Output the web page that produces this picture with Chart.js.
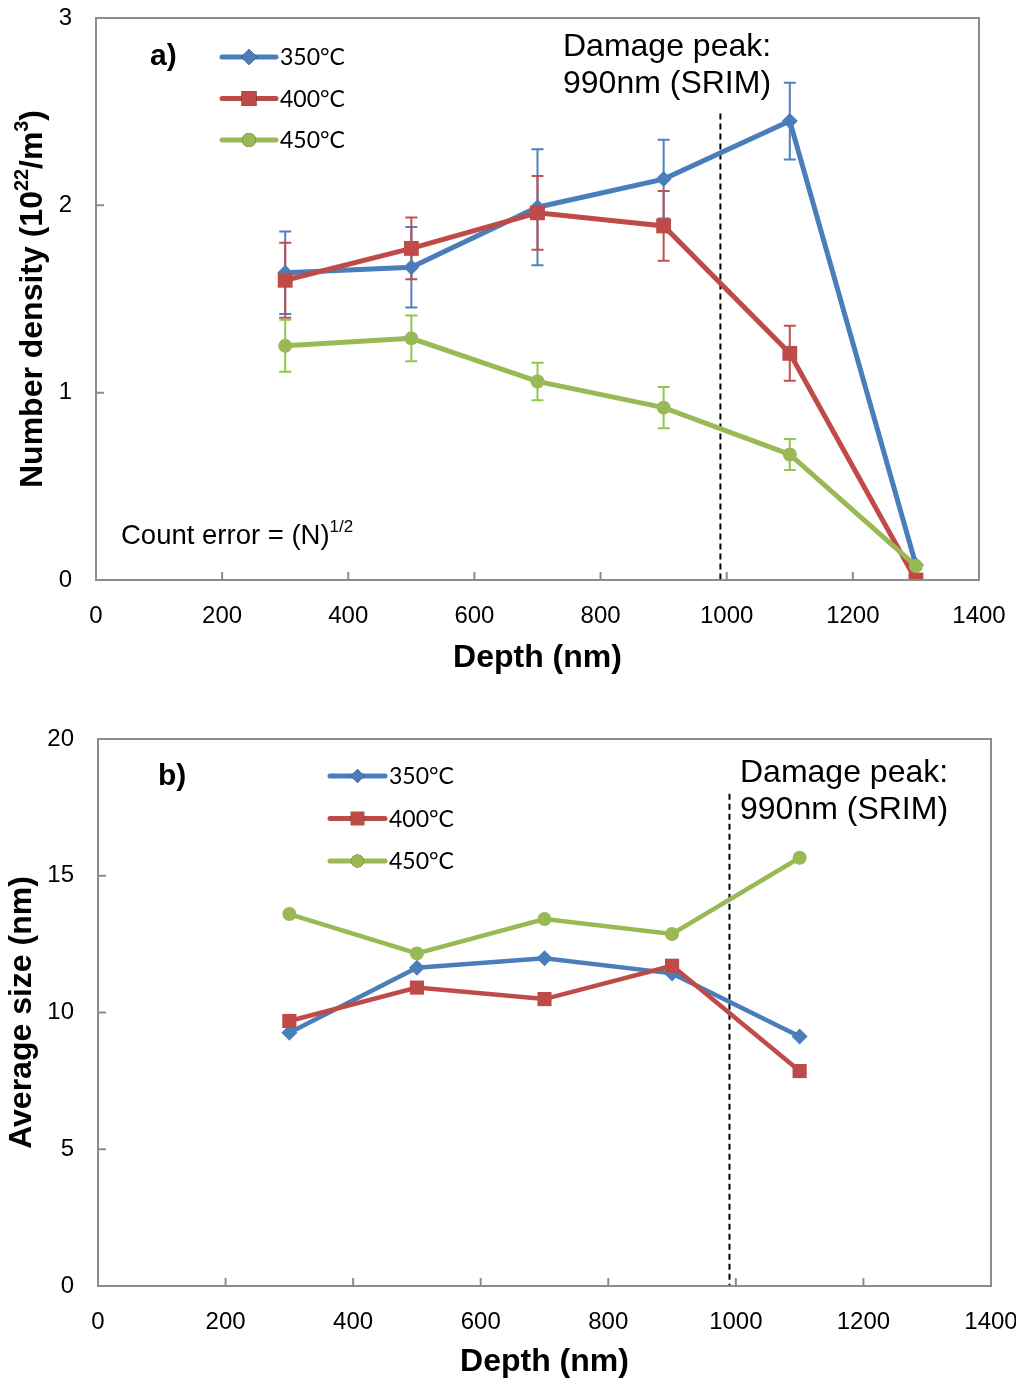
<!DOCTYPE html>
<html>
<head>
<meta charset="utf-8">
<script src="https://cdn.jsdelivr.net/npm/chart.js@4/dist/chart.umd.min.js"></script>
<style>
  body { margin: 0; background: #fff; }
  #wrap { position: relative; width: 1016px; height: 1385px; }
  canvas { position: absolute; left: 0; }
  #chartA { top: 0; }
  #chartB { top: 700px; }
</style>
</head>
<body>
<div id="wrap">
  <canvas id="chartA" width="1016" height="690"></canvas>
  <canvas id="chartB" width="1016" height="685"></canvas>
</div>
<script>
// panel a) number density vs depth
const depths = [300, 500, 700, 900, 1100, 1300];
const density350 = [1.64, 1.67, 1.99, 2.14, 2.45, 0.08];
const density400 = [1.60, 1.77, 1.96, 1.89, 1.21, 0.0];
const density450 = [1.25, 1.29, 1.06, 0.92, 0.67, 0.075];
const err350 = [0.22, 0.215, 0.31, 0.21, 0.205, 0];
const err400 = [0.20, 0.165, 0.197, 0.186, 0.147, 0];
const err450 = [0.139, 0.122, 0.10, 0.11, 0.083, 0];

// panel b) average size vs depth
const sizeDepths = [300, 500, 700, 900, 1100];
const size350 = [9.26, 11.64, 11.98, 11.43, 9.12];
const size400 = [9.69, 10.91, 10.49, 11.71, 7.86];
const size450 = [13.6, 12.16, 13.42, 12.87, 15.66];

const seriesLabels = ['350°C', '400°C', '450°C'];
const damagePeak = 990;

const colors = ['#4A7EBB', '#BE4B48', '#98B954'];
const errColors = ['#4F81BD', '#C0504D', '#92C84A'];
const shapes = ['rectRot', 'rect', 'circle'];

const SANS = '"Liberation Sans", Arial, sans-serif';
const LEG = 'Lato, "Noto Sans", sans-serif';

function toXY(xs, ys) {
    return xs.map((x, i) => ({ x: x, y: ys[i] }));
}

function drawRich(ctx, parts, x, y, size, bold, align) {
    const w = parts.reduce((s, p) => {
        ctx.font = (bold ? 'bold ' : '') + (p.sup ? size * 0.62 : size) + 'px ' + SANS;
        return s + ctx.measureText(p.t).width;
    }, 0);
    let cx = align === 'center' ? x - w / 2 : x;
    ctx.textBaseline = 'middle';
    ctx.textAlign = 'left';
    parts.forEach(p => {
        ctx.font = (bold ? 'bold ' : '') + (p.sup ? size * 0.62 : size) + 'px ' + SANS;
        ctx.fillText(p.t, cx, p.sup ? y - size * 0.32 : y);
        cx += ctx.measureText(p.t).width;
    });
}

function drawMarker(ctx, shape, x, y, r, color) {
    Chart.helpers.drawPoint(ctx, { pointStyle: shape, radius: r, rotation: 0, borderWidth: 0 }, x, y);
    ctx.fillStyle = color;
    ctx.fill();
}

const decorPlugin = {
    id: 'decor',
    beforeDatasetsDraw(chart, args, opts) {
        const ctx = chart.ctx;
        const xs = chart.scales.x, ys = chart.scales.y;
        // error bars
        (opts.errors || []).forEach((errs, di) => {
            if (!errs) return;
            const ds = chart.data.datasets[di];
            ctx.save();
            ctx.strokeStyle = errColors[di];
            ctx.lineWidth = 2;
            ds.data.forEach((pt, i) => {
                if (!errs[i]) return;
                const px = xs.getPixelForValue(pt.x);
                const t = ys.getPixelForValue(pt.y + errs[i]);
                const b = ys.getPixelForValue(pt.y - errs[i]);
                ctx.beginPath();
                ctx.moveTo(px, t); ctx.lineTo(px, b);
                ctx.moveTo(px - 6, t); ctx.lineTo(px + 6, t);
                ctx.moveTo(px - 6, b); ctx.lineTo(px + 6, b);
                ctx.stroke();
            });
            ctx.restore();
        });
        // dashed damage peak line
        ctx.save();
        ctx.strokeStyle = '#000';
        ctx.lineWidth = 2;
        ctx.setLineDash([6, 4]);
        const dx = xs.getPixelForValue(damagePeak);
        ctx.beginPath();
        ctx.moveTo(dx, ys.getPixelForValue(opts.dashTop));
        ctx.lineTo(dx, chart.chartArea.bottom);
        ctx.stroke();
        ctx.restore();
    },
    afterDraw(chart, args, opts) {
        const ctx = chart.ctx;
        const a = chart.chartArea;
        const xs = chart.scales.x, ys = chart.scales.y;
        ctx.save();
        // frame
        ctx.strokeStyle = '#8C8C8C';
        ctx.lineWidth = 2;
        ctx.strokeRect(a.left, a.top, a.right - a.left, a.bottom - a.top);
        // inward tick marks
        ctx.beginPath();
        xs.ticks.forEach((t, i) => {
            const px = xs.getPixelForTick(i);
            ctx.moveTo(px, a.bottom); ctx.lineTo(px, a.bottom - 8);
        });
        ys.ticks.forEach((t, i) => {
            const py = ys.getPixelForTick(i);
            ctx.moveTo(a.left, py); ctx.lineTo(a.left + 8, py);
        });
        ctx.stroke();
        ctx.fillStyle = '#000';
        // axis titles
        drawRich(ctx, [{ t: 'Depth (nm)' }], (a.left + a.right) / 2, opts.xTitleY, 32, true, 'center');
        ctx.save();
        ctx.translate(opts.yTitleX, (a.top + a.bottom) / 2);
        ctx.rotate(-Math.PI / 2);
        drawRich(ctx, opts.yTitle, 0, 0, 32, true, 'center');
        ctx.restore();
        // annotations
        (opts.texts || []).forEach(t => {
            drawRich(ctx, t.parts, t.x, t.y, t.size, t.bold, 'left');
        });
        // legend
        const lg = opts.legend;
        seriesLabels.forEach((lab, i) => {
            const y = lg.y + i * lg.gap;
            ctx.strokeStyle = colors[i];
            ctx.lineWidth = lg.lw;
            ctx.lineCap = 'round';
            ctx.beginPath();
            ctx.moveTo(lg.x, y); ctx.lineTo(lg.x + lg.len, y);
            ctx.stroke();
            drawMarker(ctx, shapes[i], lg.x + lg.len / 2, y, lg.r[i], colors[i]);
            ctx.fillStyle = '#000';
            ctx.font = '23px ' + LEG;
            ctx.textAlign = 'left';
            ctx.textBaseline = 'middle';
            ctx.fillText(lab, lg.x + lg.len + 4, y + 1);
        });
        ctx.restore();
    }
};

function makeChart(id, cfg) {
    const datasets = cfg.series.map((ys, i) => ({
        label: seriesLabels[i],
        data: toXY(cfg.xs, ys),
        borderColor: colors[i],
        backgroundColor: colors[i],
        borderWidth: cfg.lw,
        pointStyle: shapes[i],
        pointRadius: cfg.radii[i],
        pointBorderWidth: 0,
        pointHoverRadius: cfg.radii[i],
        order: 3 - i,
        tension: 0
    }));
    return new Chart(document.getElementById(id), {
        type: 'line',
        data: { datasets: datasets },
        options: {
            responsive: false,
            animation: false,
            layout: { padding: cfg.padding },
            plugins: {
                legend: { display: false },
                tooltip: { enabled: false },
                decor: cfg.decor
            },
            scales: {
                x: {
                    type: 'linear',
                    min: 0, max: 1400,
                    ticks: { stepSize: 200, padding: 22, color: '#000', font: { family: SANS, size: 24 },
                             callback: v => String(v) },
                    grid: { display: false, drawTicks: false },
                    border: { display: false },
                    afterFit: s => { s.height = cfg.xAxisH; s.paddingLeft = 0; s.paddingRight = 0; }
                },
                y: {
                    min: cfg.yMin, max: cfg.yMax,
                    ticks: { stepSize: cfg.yStep, padding: 24, color: '#000', font: { family: SANS, size: 24 },
                             callback: v => String(v) },
                    grid: { display: false, drawTicks: false },
                    border: { display: false },
                    afterFit: s => { s.width = cfg.yAxisW; s.paddingTop = 0; s.paddingBottom = 0; }
                }
            }
        },
        plugins: [decorPlugin]
    });
}

makeChart('chartA', {
    xs: depths,
    series: [density350, density400, density450],
    lw: 5,
    radii: [8, 10.5, 7],
    padding: { top: 18, right: 37, left: 0, bottom: 0 },
    xAxisH: 110, yAxisW: 96,
    yMin: 0, yMax: 3, yStep: 1,
    decor: {
        errors: [err350, err400, err450],
        dashTop: 2.49,
        xTitleY: 658,
        yTitleX: 33,
        yTitle: [{ t: 'Number density (10' }, { t: '22', sup: true }, { t: '/m' }, { t: '3', sup: true }, { t: ')' }],
        texts: [
            { parts: [{ t: 'a)' }], x: 150, y: 57, size: 30, bold: true },
            { parts: [{ t: 'Damage peak:' }], x: 563, y: 47, size: 32 },
            { parts: [{ t: '990nm (SRIM)' }], x: 563, y: 84, size: 32 },
            { parts: [{ t: 'Count error = (N)' }, { t: '1/2', sup: true }], x: 121, y: 536, size: 27.5 }
        ],
        legend: { x: 222, y: 57, gap: 41.5, len: 54, lw: 5, r: [8, 10.5, 7] }
    }
});

makeChart('chartB', {
    xs: sizeDepths,
    series: [size350, size400, size450],
    lw: 4.5,
    radii: [8, 10, 7],
    padding: { top: 39, right: 25, left: 0, bottom: 0 },
    xAxisH: 99, yAxisW: 98,
    yMin: 0, yMax: 20, yStep: 5,
    decor: {
        dashTop: 18.0,
        xTitleY: 662,
        yTitleX: 22,
        yTitle: [{ t: 'Average size (nm)' }],
        texts: [
            { parts: [{ t: 'b)' }], x: 158, y: 77, size: 30, bold: true },
            { parts: [{ t: 'Damage peak:' }], x: 740, y: 73, size: 32 },
            { parts: [{ t: '990nm (SRIM)' }], x: 740, y: 110, size: 32 }
        ],
        legend: { x: 330, y: 76, gap: 42.5, len: 55, lw: 5, r: [7, 9.5, 6.5] }
    }
});
</script>
</body>
</html>
